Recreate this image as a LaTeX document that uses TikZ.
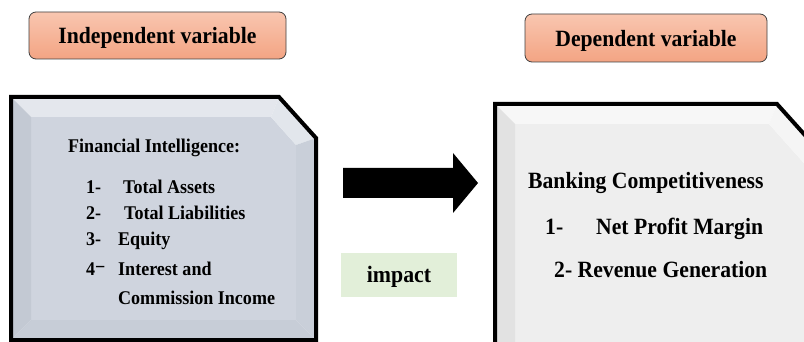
\documentclass[tikz,border=0pt]{standalone}
\usepackage{fontspec}
\setmainfont{Liberation Serif}[FakeStretch=0.93]
\definecolor{hdrtop}{HTML}{F9C6B0}
\definecolor{hdrbot}{HTML}{F3A483}
\definecolor{lbmid}{HTML}{CFD4DE}
\definecolor{lbtop}{HTML}{E4E7ED}
\definecolor{lbdiag}{HTML}{E2E6EC}
\definecolor{lbright}{HTML}{C9CFD9}
\definecolor{lbbot}{HTML}{C7CDD7}
\definecolor{lbleft}{HTML}{C3C9D3}
\definecolor{rbmid}{HTML}{EEEEEE}
\definecolor{rbtop}{HTML}{F7F7F7}
\definecolor{rbdiag}{HTML}{F5F5F5}
\definecolor{rbright}{HTML}{E6E6E6}
\definecolor{rbleft}{HTML}{E2E2E2}
\definecolor{impactgreen}{HTML}{E2EFD9}
\begin{document}
\begin{tikzpicture}[x=1pt,y=-1pt,
  hdr/.style={draw=black!75, line width=0.8pt, rounded corners=7pt,
    top color=hdrtop, bottom color=hdrbot, inner sep=0pt,
    text height=22pt, text depth=5pt,
    font=\fontsize{23.3}{26}\selectfont\bfseries},
  lt/.style={anchor=base west, inner sep=0pt, font=\fontsize{19.4}{22}\selectfont\bfseries},
  rt/.style={anchor=base west, inner sep=0pt, font=\fontsize{23.3}{26}\selectfont\bfseries},
  frame/.style={draw=black, line width=4pt, line join=miter}]
\useasboundingbox (0,0) rectangle (804,342);
\clip (0,0) rectangle (804,342);
\fill[white] (0,0) rectangle (804,342);

% headers
\node[hdr, minimum width=257pt, minimum height=47pt] (ivh) at (157.5,35.5) {Independent variable};
\node[hdr, minimum width=242pt, minimum height=48pt] (dvh) at (646,38) {Dependent variable};

% left box with bevel
\coordinate (LA) at (11,97);  \coordinate (LB) at (279,97);
\coordinate (LC) at (316,138); \coordinate (LD) at (316,340);
\coordinate (LE) at (11,340);
\coordinate (La) at (31,117); \coordinate (Lb) at (271,117);
\coordinate (Lc) at (296,145); \coordinate (Ld) at (296,320);
\coordinate (Le) at (31,320);
\fill[lbmid] (La) -- (Lb) -- (Lc) -- (Ld) -- (Le) -- cycle;
\fill[lbtop] (LA) -- (LB) -- (Lb) -- (La) -- cycle;
\fill[lbdiag] (LB) -- (LC) -- (Lc) -- (Lb) -- cycle;
\fill[lbright] (LC) -- (LD) -- (Ld) -- (Lc) -- cycle;
\fill[lbbot] (LD) -- (LE) -- (Le) -- (Ld) -- cycle;
\fill[lbleft] (LE) -- (LA) -- (La) -- (Le) -- cycle;
\draw[frame] (LA) -- (LB) -- (LC) -- (LD) -- (LE) -- cycle;

% right box with bevel
\coordinate (RA) at (495,104);  \coordinate (RB) at (777,104);
\coordinate (RC) at (830,163); \coordinate (RD) at (830,370);
\coordinate (RE) at (495,370);
\coordinate (Ra) at (515,124); \coordinate (Rb) at (769,124);
\coordinate (Rc) at (810,170); \coordinate (Rd) at (810,350);
\coordinate (Re) at (515,350);
\fill[rbmid] (Ra) -- (Rb) -- (Rc) -- (Rd) -- (Re) -- cycle;
\fill[rbtop] (RA) -- (RB) -- (Rb) -- (Ra) -- cycle;
\fill[rbdiag] (RB) -- (RC) -- (Rc) -- (Rb) -- cycle;
\fill[rbright] (RC) -- (RD) -- (Rd) -- (Rc) -- cycle;
\fill[rbleft] (RE) -- (RA) -- (Ra) -- (Re) -- cycle;
\draw[frame] (RA) -- (RB) -- (RC) -- (RD) -- (RE) -- cycle;

% block arrow
\fill[black] (343,168) -- (453,168) -- (453,153) -- (478,183) -- (453,213) -- (453,198) -- (343,198) -- cycle;

% impact
\node[fill=impactgreen, minimum width=116pt, minimum height=44pt, inner sep=0pt,
  text height=18pt, text depth=4pt, font=\fontsize{23.5}{26}\selectfont\bfseries] (imp) at (399,275) {impact};

% left texts
\node[lt] (fi) at (68,153) {Financial Intelligence:};
\node[lt] (n1) at (86,194) {1-};
\node[lt] (t1) at (123,194) {Total Assets};
\node[lt] (n2) at (86,220) {2-};
\node[lt] (t2) at (124,220) {Total Liabilities};
\node[lt] (n3) at (86,246) {3-};
\node[lt] (t3) at (118,246) {Equity};
\node[lt] (n4) at (86,276) {4\raisebox{0.12em}{−}};
\node[lt] (t4) at (118,276) {Interest and};
\node[lt] (t5) at (118,304) {Commission Income};

% right texts
\node[rt] (bc) at (528,189) {Banking Competitiveness};
\node[rt] (m1) at (545,234) {1-};
\node[rt] (r1) at (596,234) {Net Profit Margin};
\node[rt] (r2) at (554,277) {2- Revenue Generation};
\end{tikzpicture}
\end{document}
